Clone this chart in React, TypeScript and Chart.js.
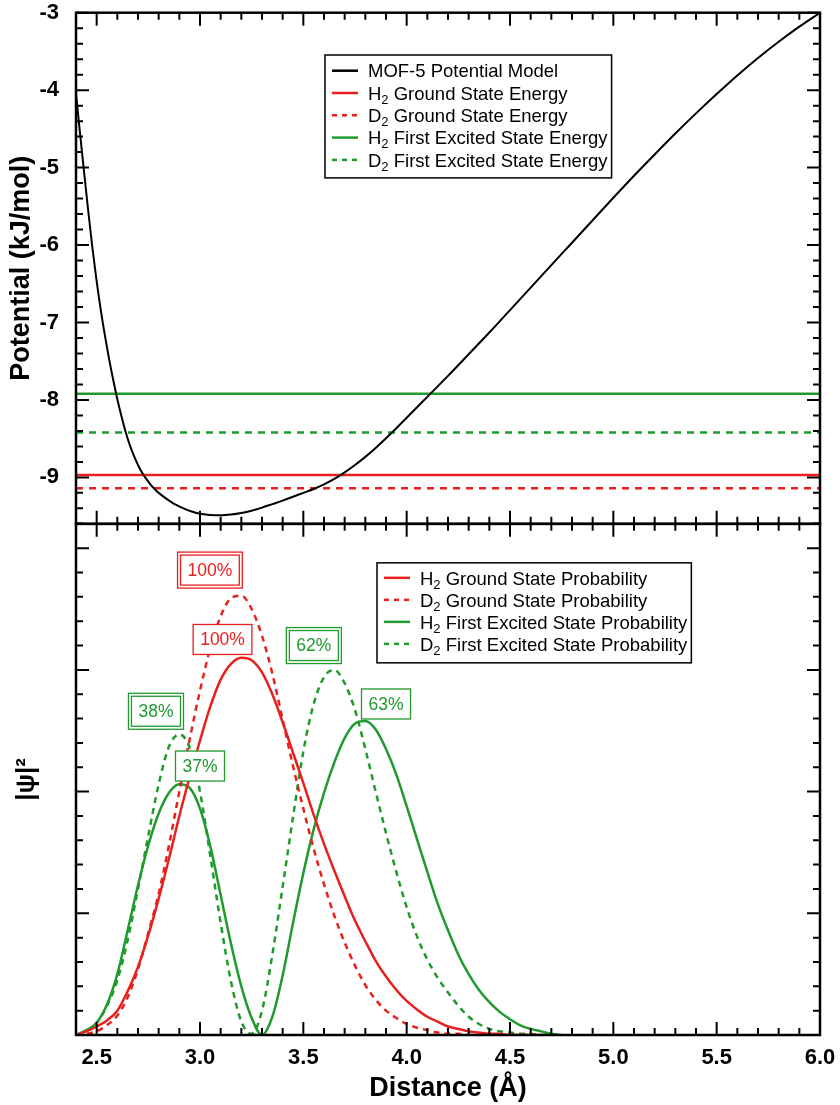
import React, { useEffect, useRef } from 'react';
import { Chart, registerables } from 'chart.js';

Chart.register(...registerables);

const FONT = "'Liberation Sans', Arial, Helvetica, sans-serif";
const RED = '#e8201d';
const GREEN = '#1f9b2e';
const BLACK = '#000000';

// ---- axis ranges ----
const X_MIN = 2.4;
const X_MAX = 6.0;
const X_MAJOR = 0.5;
const X_MINOR = 0.1;
const POT_MIN = -9.6;
const POT_MAX = -3;
const PROB_MIN = 0;
const PROB_MAX = 4.2;
const Y_MAJOR = 1;
const Y_MINOR = 0.2;

// ---- top panel: potential model ----
const potentialDistance = [
  2.40, 2.42, 2.44, 2.46, 2.48, 2.50, 2.52, 2.54, 2.56, 2.58,
  2.60, 2.62, 2.64, 2.66, 2.68, 2.70, 2.72, 2.74, 2.76, 2.78,
  2.80, 2.84, 2.88, 2.92, 2.96, 3.00, 3.05, 3.10, 3.15, 3.20,
  3.25, 3.30, 3.35, 3.40, 3.45, 3.50, 3.55, 3.60, 3.65, 3.70,
  3.75, 3.80, 3.85, 3.90, 3.95, 4.00, 4.05, 4.10, 4.20, 4.30,
  4.40, 4.50, 4.60, 4.70, 4.80, 4.90, 5.00, 5.10, 5.20, 5.30,
  5.40, 5.50, 5.60, 5.70, 5.80, 5.90, 6.00,
];
const potentialEnergy = [
  -4.05, -4.57, -5.08, -5.58, -6.05, -6.47, -6.84, -7.17, -7.47, -7.74,
  -7.99, -8.21, -8.41, -8.58, -8.72, -8.84, -8.94, -9.02, -9.09, -9.15,
  -9.20, -9.28, -9.35, -9.40, -9.44, -9.47, -9.485, -9.49, -9.48, -9.46,
  -9.43, -9.39, -9.345, -9.30, -9.25, -9.20, -9.15, -9.09, -9.02, -8.935,
  -8.84, -8.735, -8.62, -8.495, -8.365, -8.23, -8.095, -7.96, -7.69, -7.41,
  -7.13, -6.84, -6.55, -6.26, -5.97, -5.68, -5.39, -5.105, -4.83, -4.56,
  -4.30, -4.05, -3.81, -3.585, -3.375, -3.18, -3.00,
];

// ---- top panel: energy levels ----
const energyLabels = [
  'H_2 Ground State Energy',
  'D_2 Ground State Energy',
  'H_2 First Excited State Energy',
  'D_2 First Excited State Energy',
];
const energyLevels = [-8.97, -9.14, -7.92, -8.42];

// ---- bottom panel: probability densities ----
const probDistance = [
  2.40, 2.45, 2.50, 2.55, 2.60, 2.65, 2.70, 2.75, 2.80, 2.85,
  2.90, 2.95, 3.00, 3.05, 3.10, 3.15, 3.20, 3.25, 3.30, 3.35,
  3.40, 3.45, 3.50, 3.55, 3.60, 3.65, 3.70, 3.75, 3.80, 3.85,
  3.90, 3.95, 4.00, 4.05, 4.10, 4.15, 4.20, 4.25, 4.30, 4.35,
  4.40, 4.45, 4.50, 4.55, 4.60, 4.65, 4.70, 4.75,
];
const probLabels = [
  'H_2 Ground State Probability',
  'D_2 Ground State Probability',
  'H_2 First Excited State Probability',
  'D_2 First Excited State Probability',
];
const h2GroundProb = [
  0.00, 0.03, 0.07, 0.12, 0.20, 0.36, 0.56, 0.82, 1.12, 1.45,
  1.80, 2.12, 2.42, 2.70, 2.92, 3.05, 3.10, 3.08, 2.98, 2.80,
  2.57, 2.32, 2.07, 1.81, 1.57, 1.35, 1.14, 0.94, 0.77, 0.61,
  0.48, 0.37, 0.28, 0.21, 0.15, 0.11, 0.07, 0.05, 0.03, 0.02,
  0.01, 0.01, 0.00, 0.00, 0.00, 0.00,
];
const d2GroundProb = [
  0.00, 0.01, 0.03, 0.08, 0.16, 0.31, 0.54, 0.84, 1.16, 1.56,
  2.00, 2.43, 2.83, 3.18, 3.44, 3.59, 3.61, 3.50, 3.28, 2.97,
  2.59, 2.21, 1.86, 1.53, 1.24, 0.98, 0.76, 0.57, 0.41, 0.29,
  0.20, 0.14, 0.09, 0.06, 0.04, 0.02, 0.01, 0.01, 0.00, 0.00,
  0.00, 0.00, 0.00, 0.00, 0.00, 0.00,
];
const h2ExcitedProb = [
  0.00, 0.04, 0.10, 0.25, 0.50, 0.86, 1.23, 1.56, 1.82, 1.99,
  2.06, 2.03, 1.86, 1.55, 1.15, 0.75, 0.40, 0.14, 0.00, 0.15,
  0.49, 0.92, 1.33, 1.69, 1.99, 2.24, 2.44, 2.56, 2.58, 2.51,
  2.35, 2.14, 1.88, 1.61, 1.34, 1.08, 0.86, 0.66, 0.50, 0.37,
  0.27, 0.19, 0.13, 0.08, 0.05, 0.03, 0.01, 0.00,
];
const d2ExcitedProb = [
  0.00, 0.03, 0.10, 0.24, 0.45, 0.78, 1.20, 1.64, 2.06, 2.37,
  2.47, 2.36, 2.00, 1.47, 0.92, 0.44, 0.11, 0.01, 0.20, 0.66,
  1.22, 1.79, 2.33, 2.72, 2.94, 3.00, 2.89, 2.67, 2.35, 2.00,
  1.66, 1.34, 1.05, 0.81, 0.62, 0.47, 0.35, 0.24, 0.15, 0.09,
  0.05, 0.03, 0.02, 0.01, 0.01, 0.00, 0.00, 0.00,
];

// ---- peak annotations (relative population of each lobe) ----
const peakLabels = ['100%', '100%', '62%', '63%', '38%', '37%'];
const peakLabelX = [3.048, 3.109, 3.551, 3.90, 2.787, 3.0];
const peakLabelY = [3.82, 3.25, 3.20, 2.72, 2.66, 2.21];
const peakLabelSeries = [1, 0, 3, 2, 3, 2];

const probSeries = [h2GroundProb, d2GroundProb, h2ExcitedProb, d2ExcitedProb];
const probColors = [RED, RED, GREEN, GREEN];
const isDashed = (i: number) => i % 2 === 1;

function drawRich(ctx: CanvasRenderingContext2D, text: string, x: number, y: number, size: number) {
  const parts = text.split(/_(\d)/);
  let cx = x;
  parts.forEach((p, i) => {
    if (i % 2 === 1) {
      ctx.font = `${Math.round(size * 0.68)}px ${FONT}`;
      ctx.fillText(p, cx, y + size * 0.22);
    } else {
      ctx.font = `${size}px ${FONT}`;
      ctx.fillText(p, cx, y);
    }
    cx += ctx.measureText(p).width;
  });
  return cx - x;
}

function measureRich(ctx: CanvasRenderingContext2D, text: string, size: number) {
  const parts = text.split(/_(\d)/);
  let w = 0;
  parts.forEach((p, i) => {
    ctx.font = i % 2 === 1 ? `${Math.round(size * 0.68)}px ${FONT}` : `${size}px ${FONT}`;
    w += ctx.measureText(p).width;
  });
  return w;
}

function drawLegend(ctx: CanvasRenderingContext2D, items: any[], left: number, top: number, o: any) {
  let maxW = 0;
  items.forEach((it) => { maxW = Math.max(maxW, measureRich(ctx, it.label, o.size)); });
  const width = o.lineStart + o.lineLen + o.textGap + maxW + o.padRight;
  const height = o.padTop + (items.length - 1) * o.rowH + o.padBottom;
  ctx.fillStyle = '#ffffff';
  ctx.fillRect(left, top, width, height);
  ctx.strokeStyle = '#000';
  ctx.lineWidth = 1.5;
  ctx.setLineDash([]);
  ctx.strokeRect(left, top, width, height);
  items.forEach((it, i) => {
    const cy = top + o.padTop + i * o.rowH;
    ctx.strokeStyle = it.borderColor;
    ctx.lineWidth = 2.5;
    ctx.setLineDash(it.borderDash && it.borderDash.length ? [5, 5] : []);
    ctx.beginPath();
    ctx.moveTo(left + o.lineStart, cy);
    ctx.lineTo(left + o.lineStart + o.lineLen, cy);
    ctx.stroke();
    ctx.setLineDash([]);
    ctx.fillStyle = '#000';
    ctx.textBaseline = 'alphabetic';
    ctx.textAlign = 'left';
    drawRich(ctx, it.label, left + o.lineStart + o.lineLen + o.textGap, cy + o.size * 0.36, o.size);
  });
}

function isMultiple(v: number, step: number) {
  const r = v / step;
  return Math.abs(r - Math.round(r)) < 1e-6;
}

function drawPanel(ctx: CanvasRenderingContext2D, xs: any, ys: any, vMin: number, vMax: number) {
  const L = xs.left, R = xs.right, T = ys.top, B = ys.bottom;
  ctx.setLineDash([]);
  ctx.strokeStyle = '#000';
  ctx.lineWidth = 2;
  ctx.beginPath();
  const nx = Math.round((X_MAX - X_MIN) / X_MINOR);
  for (let i = 0; i <= nx; i++) {
    const v = X_MIN + i * X_MINOR;
    const p = xs.getPixelForValue(v);
    const len = isMultiple(v, X_MAJOR) ? 13 : 7;
    ctx.moveTo(p, B); ctx.lineTo(p, B - len);
    ctx.moveTo(p, T); ctx.lineTo(p, T + len);
  }
  const ny = Math.round((vMax - vMin) / Y_MINOR);
  for (let i = 0; i <= ny; i++) {
    const v = vMin + i * Y_MINOR;
    const p = ys.getPixelForValue(v);
    const len = isMultiple(v, Y_MAJOR) ? 13 : 7;
    ctx.moveTo(L, p); ctx.lineTo(L + len, p);
    ctx.moveTo(R, p); ctx.lineTo(R - len, p);
  }
  ctx.stroke();
  ctx.lineWidth = 2.5;
  ctx.strokeRect(L, T, R - L, B - T);
}

function drawPeakLabels(ctx: CanvasRenderingContext2D, xs: any, ys: any) {
  const size = 17.5;
  ctx.font = `${size}px ${FONT}`;
  ctx.textAlign = 'center';
  ctx.textBaseline = 'middle';
  peakLabels.forEach((t, i) => {
    const s = peakLabelSeries[i];
    const color = probColors[s];
    const cx = xs.getPixelForValue(peakLabelX[i]);
    const cy = ys.getPixelForValue(peakLabelY[i]);
    const w = ctx.measureText(t).width + 14;
    const h = 30;
    ctx.fillStyle = '#ffffff';
    ctx.fillRect(cx - w / 2, cy - h / 2, w, h);
    ctx.strokeStyle = color;
    ctx.lineWidth = 1.3;
    ctx.setLineDash([]);
    ctx.strokeRect(cx - w / 2, cy - h / 2, w, h);
    if (isDashed(s)) {
      ctx.strokeRect(cx - w / 2 - 3, cy - h / 2 - 3, w + 6, h + 6);
    }
    ctx.fillStyle = color;
    ctx.fillText(t, cx, cy + 1);
  });
}

const overlayPlugin = {
  id: 'overlay',
  afterDraw(chart: any) {
    const ctx = chart.ctx as CanvasRenderingContext2D;
    const xs = chart.scales.x;
    const yt = chart.scales.yTop;
    const yb = chart.scales.yBot;
    ctx.save();
    const ds = chart.data.datasets;
    const topItems = ds.filter((d: any) => d.yAxisID === 'yTop');
    const botItems = ds.filter((d: any) => d.yAxisID === 'yBot');
    drawLegend(ctx, topItems, xs.left + 249, yt.top + 42.3, {
      size: 18.5, rowH: 22.3, padTop: 15.7, padBottom: 18, lineStart: 7, lineLen: 26, textGap: 10, padRight: 4,
    });
    drawLegend(ctx, botItems, xs.left + 301, yb.top + 39, {
      size: 18.5, rowH: 22, padTop: 15, padBottom: 19, lineStart: 7, lineLen: 26, textGap: 10, padRight: 4,
    });
    drawPeakLabels(ctx, xs, yb);
    drawPanel(ctx, xs, yt, POT_MIN, POT_MAX);
    drawPanel(ctx, xs, yb, PROB_MIN, PROB_MAX);
    ctx.restore();
  },
};

const fitY = (s: any) => {
  s.width = 76;
  s.paddingTop = 0;
  s.paddingBottom = 0;
};

export default function App() {
  const ref = useRef<HTMLCanvasElement | null>(null);
  useEffect(() => {
    if (!ref.current) return;
    const datasets: any[] = [
      {
        label: 'MOF-5 Potential Model',
        data: potentialDistance.map((x, i) => ({ x, y: potentialEnergy[i] })),
        yAxisID: 'yTop',
        borderColor: BLACK,
        borderWidth: 2,
        pointRadius: 0,
        cubicInterpolationMode: 'monotone',
      },
      ...energyLevels.map((e, i) => ({
        label: energyLabels[i],
        data: [{ x: X_MIN, y: e }, { x: X_MAX, y: e }],
        yAxisID: 'yTop',
        borderColor: i < 2 ? RED : GREEN,
        borderDash: isDashed(i) ? [7, 6] : [],
        borderWidth: 2.5,
        pointRadius: 0,
      })),
      ...probSeries.map((vals, i) => ({
        label: probLabels[i],
        data: vals.map((y, j) => ({ x: probDistance[j], y })),
        yAxisID: 'yBot',
        borderColor: probColors[i],
        borderDash: isDashed(i) ? [6, 5] : [],
        borderWidth: 2.5,
        pointRadius: 0,
        cubicInterpolationMode: 'monotone',
      })),
    ];
    const chart = new Chart(ref.current, {
      type: 'line',
      data: { datasets },
      plugins: [overlayPlugin],
      options: {
        animation: false,
        responsive: false,
        devicePixelRatio: 1,
        layout: { padding: { top: 12.7, right: 20, left: 0, bottom: 0 } },
        plugins: { legend: { display: false }, tooltip: { enabled: false } },
        scales: {
          x: {
            type: 'linear',
            position: 'bottom',
            min: X_MIN,
            max: X_MAX,
            grid: { display: false },
            border: { display: false },
            ticks: {
              stepSize: X_MAJOR,
              includeBounds: false,
              autoSkip: false,
              maxRotation: 0,
              padding: 2,
              color: '#000',
              font: { family: FONT, size: 22, weight: 'bold' },
              callback: (v: any) => Number(v).toFixed(1),
            },
            title: {
              display: true,
              text: 'Distance (Å)',
              color: '#000',
              font: { family: FONT, size: 27, weight: 'bold', lineHeight: 1 },
              padding: { top: 0, bottom: 3 },
            },
            afterFit: (s: any) => {
              s.height = 70;
              s.paddingLeft = 0;
              s.paddingRight = 0;
            },
          },
          yTop: {
            type: 'linear',
            position: 'left',
            stack: 'panels',
            stackWeight: 1,
            weight: 2,
            min: POT_MIN,
            max: POT_MAX,
            grid: { display: false },
            border: { display: false },
            ticks: {
              stepSize: Y_MAJOR,
              includeBounds: false,
              padding: 9,
              color: '#000',
              font: { family: FONT, size: 22, weight: 'bold' },
              callback: (v: any) => String(v),
            },
            title: {
              display: true,
              text: 'Potential (kJ/mol)',
              color: '#000',
              font: { family: FONT, size: 27, weight: 'bold', lineHeight: 1 },
              padding: { top: 8, bottom: 0 },
            },
            afterFit: fitY,
          },
          yBot: {
            type: 'linear',
            position: 'left',
            stack: 'panels',
            stackWeight: 1,
            weight: 1,
            min: PROB_MIN,
            max: PROB_MAX,
            grid: { display: false },
            border: { display: false },
            ticks: { display: false, stepSize: Y_MAJOR },
            title: {
              display: true,
              text: '|ψ|²',
              color: '#000',
              font: { family: FONT, size: 26, weight: 'bold', lineHeight: 1 },
              padding: { top: 14, bottom: 0 },
            },
            afterFit: fitY,
          },
        },
      } as any,
    });
    return () => chart.destroy();
  }, []);
  return (
    <div style={{ position: 'absolute', left: 0, top: 0, width: 840, height: 1105, background: '#fff' }}>
      <canvas ref={ref} width={840} height={1105} />
    </div>
  );
}
